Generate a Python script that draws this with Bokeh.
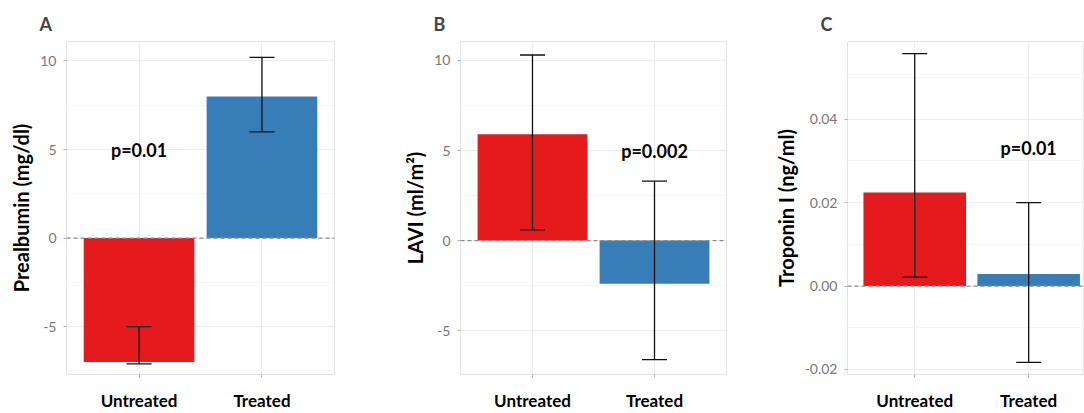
from bokeh.plotting import figure
from bokeh.layouts import row
from bokeh.models import Range1d, FixedTicker, Span, Whisker, ColumnDataSource, TeeHead
from bokeh.core.properties import value
from bokeh.embed import file_html
from bokeh.resources import INLINE

categories = ["Untreated", "Treated"]
bar_colors = ["#E41A1C", "#377EB8"]

prealbumin_mean = [-7.0, 8.0]
prealbumin_lower = [-7.1, 6.0]
prealbumin_upper = [-5.0, 10.2]

lavi_mean = [5.9, -2.4]
lavi_lower = [0.6, -6.6]
lavi_upper = [10.3, 3.3]

troponin_mean = [0.0224, 0.0029]
troponin_lower = [0.0021, -0.0183]
troponin_upper = [0.0557, 0.020]

panel_letters = ["A", "B", "C"]
y_titles = ["Prealbumin (mg/dl)", "LAVI (ml/m\u00b2)", "Troponin I (ng/ml)"]
p_texts = ["p=0.01", "p=0.002", "p=0.01"]

ticks_A = [-5, 0, 5, 10]
ticks_B = [-5, 0, 5, 10]
ticks_C = [-0.02, 0.0, 0.02, 0.04]
tick_labels_A = ["-5", "0", "5", "10"]
tick_labels_B = ["-5", "0", "5", "10"]
tick_labels_C = ["-0.02", "0.00", "0.02", "0.04"]

FONT = "Lato"


def panel(letter, ytitle, mean, lower, upper, ticks, tick_labels, yr, xr,
          ptext, pcat, py, width, left, right):
    xs = [i + 0.5 for i in range(len(categories))]
    src = ColumnDataSource(dict(x=xs, cat=categories, mean=mean, lower=lower,
                                upper=upper, color=bar_colors))
    p = figure(width=width, height=413, output_backend="svg", toolbar_location=None,
               x_range=Range1d(*xr), y_range=Range1d(*yr),
               min_border_left=left, min_border_right=right,
               min_border_top=41, min_border_bottom=36,
               background_fill_color="white", border_fill_color="white")
    p.outline_line_color = "#e3e3e3"
    p.outline_line_width = 1

    p.title.text = letter
    p.title.text_font = FONT
    p.title.text_font_size = "18px"
    p.title.text_font_style = "bold"
    p.title.align = "left"
    p.title.offset = -27
    p.title.standoff = 13

    minor = [(a + b) / 2 for a, b in zip(ticks[:-1], ticks[1:])]
    step = ticks[1] - ticks[0]
    minor = [ticks[0] - step / 2] + minor + [ticks[-1] + step / 2]
    p.yaxis.ticker = FixedTicker(ticks=ticks, minor_ticks=minor)
    p.yaxis.major_label_overrides = {t: l for t, l in zip(ticks, tick_labels)}
    p.xaxis.ticker = FixedTicker(ticks=xs, minor_ticks=[])
    p.xaxis.major_label_overrides = {x: c for x, c in zip(xs, categories)}

    for ax in (p.xaxis, p.yaxis):
        ax.axis_line_color = None
        ax.major_tick_line_color = "#b0b0b0"
        ax.major_tick_in = 0
        ax.major_tick_out = 3
        ax.minor_tick_line_color = None
    p.yaxis.major_label_text_font = FONT
    p.yaxis.major_label_text_font_size = "14px"
    p.yaxis.major_label_text_color = "#777777"
    p.yaxis.major_label_standoff = 6
    p.yaxis.axis_label = ytitle
    p.yaxis.axis_label_text_font = FONT
    p.yaxis.axis_label_text_font_size = "20px"
    p.yaxis.axis_label_text_font_style = "bold"
    p.yaxis.axis_label_text_color = "black"
    p.yaxis.axis_label_standoff = 4

    p.xaxis.major_label_text_font = FONT
    p.xaxis.major_label_text_font_size = "17px"
    p.xaxis.major_label_text_font_style = "bold"
    p.xaxis.major_label_text_color = "black"
    p.xaxis.major_label_standoff = 12

    p.xgrid.grid_line_color = "#ececec"
    p.ygrid.grid_line_color = "#ececec"
    p.ygrid.minor_grid_line_color = "#f5f5f5"

    p.vbar(x="x", top="mean", bottom=0, width=0.9, fill_color="color",
           line_color=None, source=src)

    p.add_layout(Span(location=0, dimension="width", line_color="#8c8c8c",
                      line_dash="4 3", line_width=1.2))

    w = Whisker(base="x", upper="upper", lower="lower", source=src,
                line_color="#111111", line_width=1.3, level="overlay",
                upper_head=TeeHead(size=25, line_color="#111111", line_width=1.3),
                lower_head=TeeHead(size=25, line_color="#111111", line_width=1.3))
    p.add_layout(w)

    px = xs[categories.index(pcat)]
    p.text(x=[px], y=[py], text=[ptext], text_font=value(FONT), text_font_size="18px",
           text_font_style="bold", text_align="center", text_baseline="middle",
           text_color="black")
    return p


pA = panel("A", y_titles[0], prealbumin_mean, prealbumin_lower, prealbumin_upper,
           ticks_A, tick_labels_A, (-7.7, 11.1), (-0.09, 2.09),
           p_texts[0], "Untreated", 5, 390, 66, 56)
pB = panel("B", y_titles[1], lavi_mean, lavi_lower, lavi_upper,
           ticks_B, tick_labels_B, (-7.43, 11.05), (-0.09, 2.09),
           p_texts[1], "Treated", 5, 380, 70, 44)
pC = panel("C", y_titles[2], troponin_mean, troponin_lower, troponin_upper,
           ticks_C, tick_labels_C, (-0.0212, 0.0586), (-0.09, 1.99),
           p_texts[2], "Treated", 0.033, 314, 70, 0)

layout = row(pA, pB, pC)
open("out.html", "w").write(file_html(layout, INLINE))
